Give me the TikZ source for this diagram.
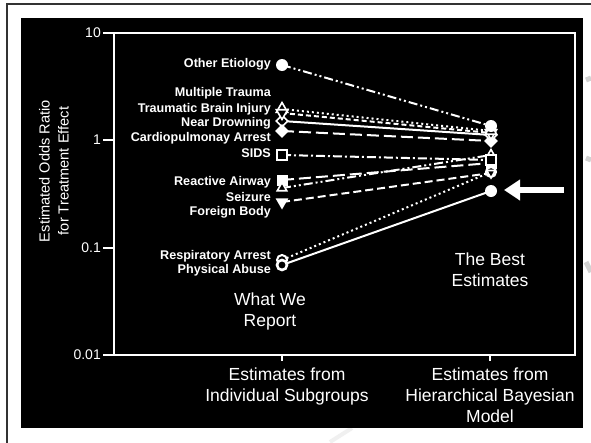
\documentclass[tikz,border=0pt]{standalone}
\usepackage{fontspec}
\setmainfont{Liberation Sans}
\usetikzlibrary{shapes.geometric,arrows.meta}
\begin{document}
\begin{tikzpicture}[x=1pt,y=-1pt,
  lbl/.style={text=white,font=\bfseries\fontsize{12.6}{14}\selectfont,anchor=east,inner sep=0pt},
  ticklbl/.style={text=white,font=\fontsize{14}{16}\selectfont,anchor=east,inner sep=0pt},
  big/.style={text=white,font=\fontsize{17.5}{21}\selectfont,align=center,inner sep=0pt},
  ser/.style={white,line width=2pt},
  dashdotdot/.style={dash pattern=on 9pt off 3pt on 2pt off 3pt on 2pt off 3pt},
  dashdotpat/.style={dash pattern=on 9pt off 3pt on 2pt off 3pt},
  dotpat/.style={dash pattern=on 2pt off 3pt},
  longdash/.style={dash pattern=on 12pt off 5pt},
  shortdash/.style={dash pattern=on 5pt off 3pt},
  middash/.style={dash pattern=on 8pt off 4pt},
  fcirc/.style={circle,fill=white,minimum size=12pt,inner sep=0pt},
  ocirc/.style={circle,draw=white,fill=black,line width=2pt,minimum size=10pt,inner sep=0pt},
  otriup/.style={regular polygon,regular polygon sides=3,draw=white,fill=black,line width=1.6pt,minimum size=13pt,inner sep=0pt},
  otridown/.style={otriup,shape border rotate=180},
  ftridown/.style={regular polygon,regular polygon sides=3,shape border rotate=180,fill=white,minimum size=15pt,inner sep=0pt},
  fdiam/.style={diamond,fill=white,minimum size=14pt,inner sep=0pt},
  odiam/.style={diamond,draw=white,fill=black,line width=1.6pt,minimum size=12pt,inner sep=0pt},
  fsq/.style={rectangle,fill=white,minimum size=11pt,inner sep=0pt},
  osq/.style={rectangle,draw=white,fill=black,line width=1.8pt,minimum size=10pt,inner sep=0pt}
]
\useasboundingbox (0,0) rectangle (591,442);
\fill[white] (0,0) rectangle (591,442);
% faint slide decorations
\draw[gray!35,line width=5pt] (586,80) -- (591,78);
\draw[gray!35,line width=5pt] (586,158) -- (591,160);
\draw[gray!35,line width=5pt] (586,262) -- (591,272);
\draw[gray!12,line width=4pt] (330,442) -- (352,428);
% outer frame
\draw[black!80,line width=2pt] (7,443) -- (7,3.5) -- (592,3.5);
% black panel
\fill[black] (21,18) rectangle (583,428);
% axis box
\draw[white,line width=1.8pt] (114,33) rectangle (575,355);
\foreach \yy/\tl in {33/10,140/1,248/0.1,355/0.01}{
  \draw[white,line width=1.8pt] (103,\yy) -- (114,\yy);
  \node[ticklbl] at (101,\yy) {\tl};
}
\draw[white,line width=1.8pt] (282,355) -- (282,361);
\draw[white,line width=1.8pt] (490,355) -- (490,361);
% axis titles
\node[text=white,font=\fontsize{14.6}{19}\selectfont,align=center,rotate=90,inner sep=0pt] (ytitle) at (54,171) {Estimated Odds Ratio\\for Treatment Effect};
\node[big,anchor=north] (xl1) at (287,368) {Estimates from\\Individual Subgroups};
\node[big,anchor=north] (xl2) at (490,368) {Estimates from\\Hierarchical Bayesian\\Model};
\node[big] (wwr) at (270,311) {What We\\Report};
\node[big] (tbe) at (490,270) {The Best\\Estimates};
% category labels
\node[lbl] (t1) at (271,64) {Other Etiology};
\node[lbl] (t2) at (271,93) {Multiple Trauma};
\node[lbl] (t3) at (271,109) {Traumatic Brain Injury};
\node[lbl] (t4) at (271,123) {Near Drowning};
\node[lbl] (t5) at (271,138) {Cardiopulmonay Arrest};
\node[lbl] (t6) at (271,153) {SIDS};
\node[lbl] (t7) at (271,182) {Reactive Airway};
\node[lbl] (t8) at (271,197) {Seizure};
\node[lbl] (t9) at (271,212) {Foreign Body};
\node[lbl] (t10) at (271,256) {Respiratory Arrest};
\node[lbl] (t11) at (271,270) {Physical Abuse};
% data coordinates
\coordinate (L1) at (282,65);  \coordinate (R1) at (491,126);
\coordinate (L2) at (282,109); \coordinate (R2) at (491,131);
\coordinate (L3) at (282,113); \coordinate (R3) at (491,133);
\coordinate (L4) at (282,121); \coordinate (R4) at (491,135);
\coordinate (L5) at (282,131); \coordinate (R5) at (491,141);
\coordinate (L6) at (282,155); \coordinate (R6) at (491,160);
\coordinate (L7) at (282,180); \coordinate (R7) at (491,163);
\coordinate (L8) at (282,188); \coordinate (R8) at (491,155);
\coordinate (L9) at (282,202); \coordinate (R9) at (491,173);
\coordinate (L10) at (282,260); \coordinate (R10) at (491,172);
\coordinate (L11) at (282,265); \coordinate (R11) at (491,191);
% series lines
\draw[ser,dashdotdot] (L1) -- (R1);
\draw[ser,dotpat] (L2) -- (R2);
\draw[ser,shortdash] (L3) -- (R3);
\draw[ser] (L4) -- (R4);
\draw[ser,longdash] (L5) -- (R5);
\draw[ser,dashdotpat] (L6) -- (R6);
\draw[ser,longdash] (L7) -- (R7);
\draw[ser,dashdotdot] (L8) -- (R8);
\draw[ser,middash] (L9) -- (R9);
\draw[ser,dotpat] (L10) -- (R10);
\draw[ser] (L11) -- (R11);
% left markers
\node[fcirc] (mL1) at (L1) {};
\node[odiam] (mL4) at (L4) {};
\node[fdiam] (mL5) at (L5) {};
\node[otriup] (mL2) at (L2) {};
\node[otridown] (mL3) at (L3) {};
\node[osq] (mL6) at (L6) {};
\node[fsq] (mL7) at (L7) {};
\node[otriup,minimum size=11pt] (mL8) at (L8) {};
\node[ftridown] (mL9) at (L9) {};
\node[ocirc] (mL10) at (L10) {};
\node[ocirc,line width=2.6pt] (mL11) at (L11) {};
% right markers
\node[fdiam] (mR5) at (R5) {};
\node[odiam] (mR4) at (R4) {};
\node[otridown] (mR3) at (R3) {};
\node[otriup] (mR2) at (R2) {};
\node[fcirc] (mR1) at (R1) {};
\node[otriup,minimum size=11pt] (mR8) at (R8) {};
\node[fsq] (mR7) at (R7) {};
\node[osq] (mR6) at (R6) {};
\node[ocirc] (mR10) at (R10) {};
\node[otridown,minimum size=10pt] (mR9) at (R9) {};
\node[fcirc] (mR11) at (R11) {};
% pointer arrow
\coordinate (arrtail) at (564,190);
\coordinate (arrtip) at (504,190);
\draw[white,line width=6pt,-{Triangle[length=16pt,width=20pt]}] (arrtail) -- (arrtip);
\end{tikzpicture}
\end{document}
